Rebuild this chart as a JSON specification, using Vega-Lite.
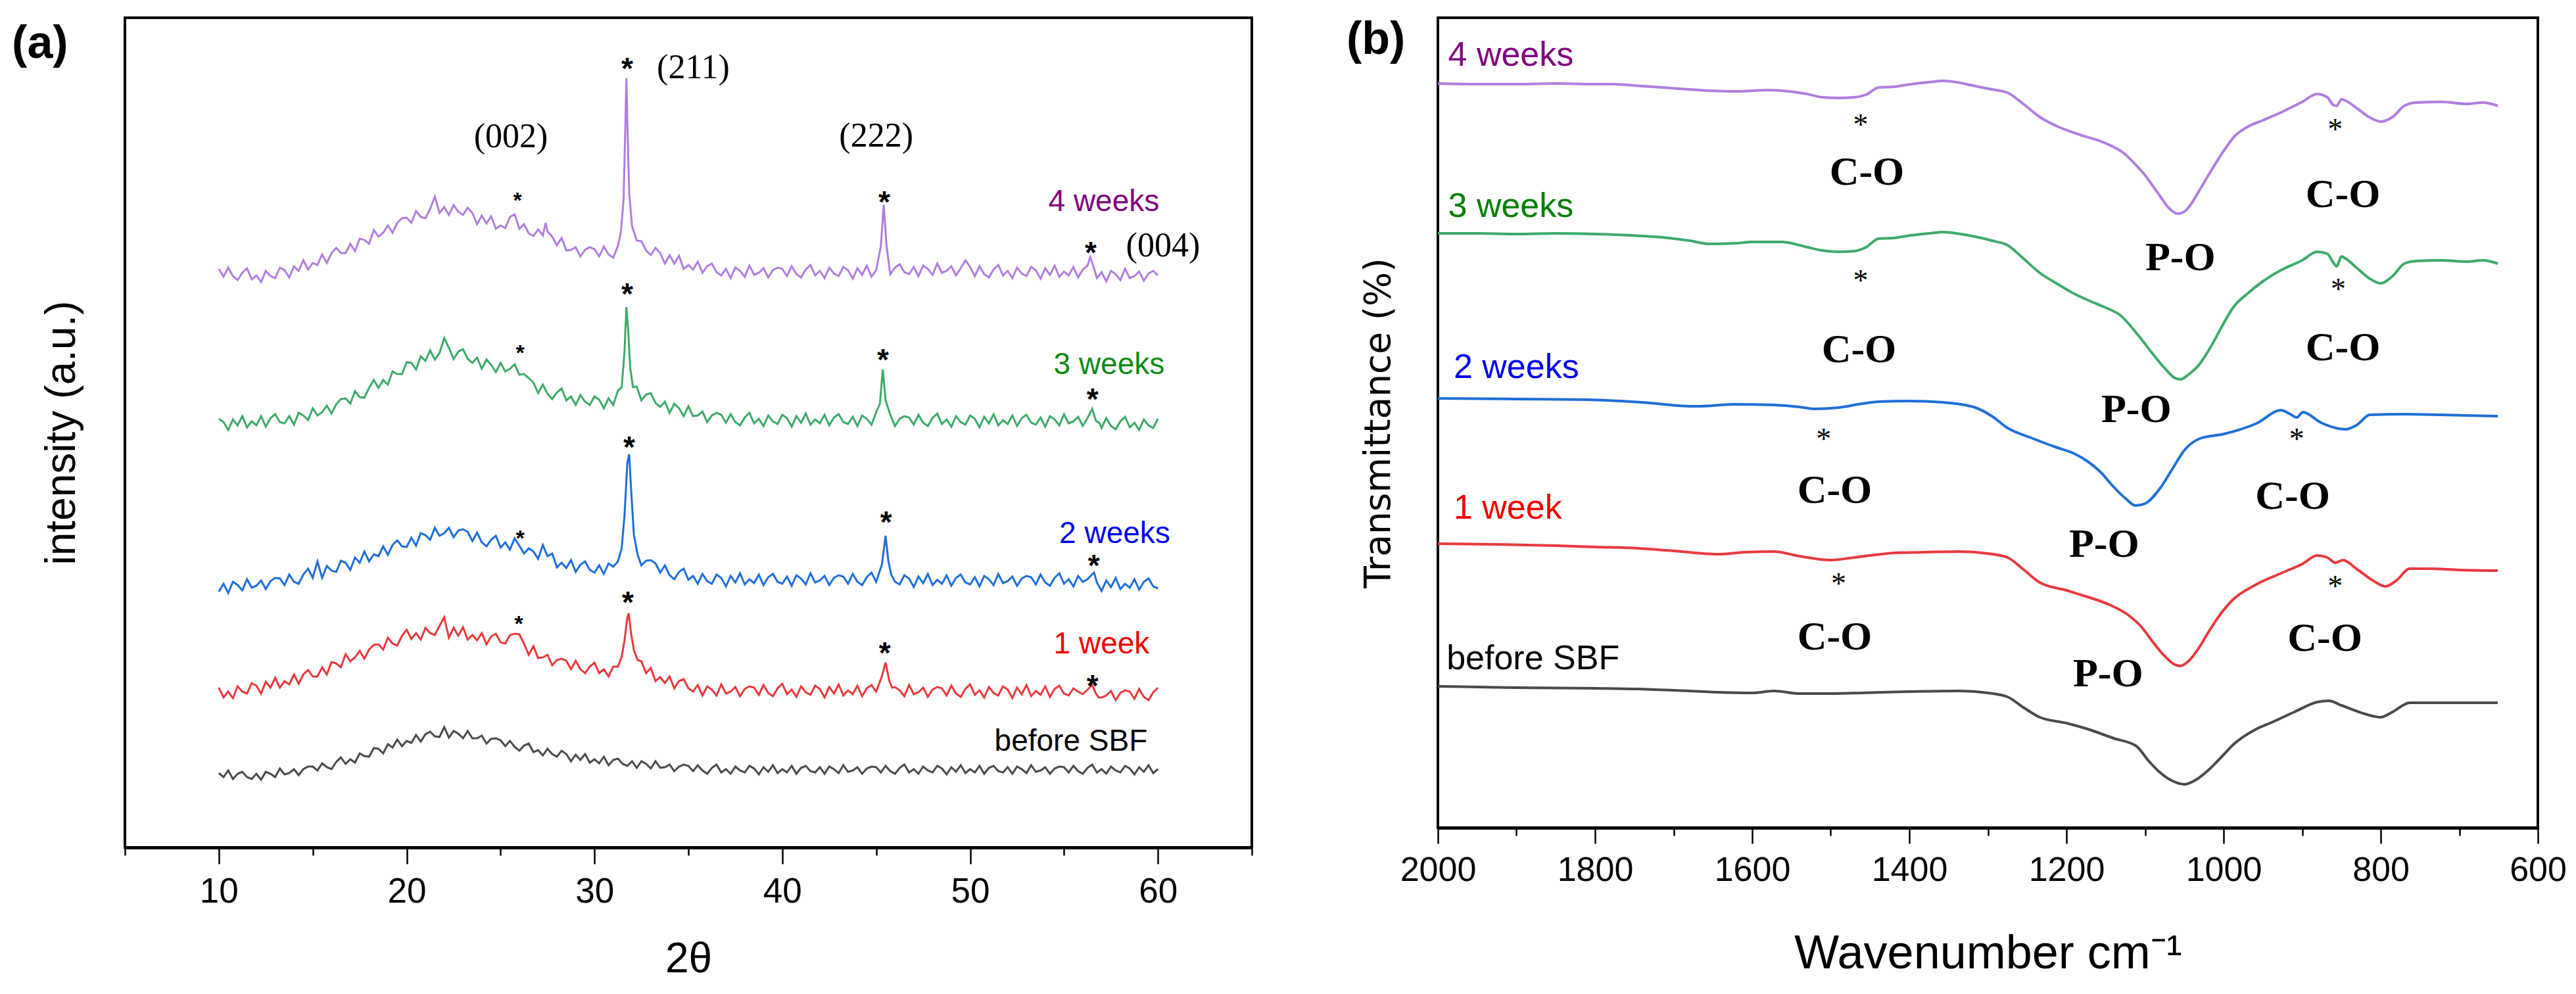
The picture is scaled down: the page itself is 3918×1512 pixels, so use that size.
{
"$schema":"https://vega.github.io/schema/vega-lite/v6.json",
"background":"white",
"padding":{"left":16,"top":24,"right":10,"bottom":5},
"config":{"view":{"stroke":"black","strokeWidth":4},"axis":{"grid":false}},
"bounds":"flush",
"spacing":283,
"datasets":{
"xrd":[
{"s":"4w","t":10,"v":895},{"s":"4w","t":10.25,"v":883},{"s":"4w","t":10.5,"v":897},{"s":"4w","t":10.75,"v":884},{"s":"4w","t":11,"v":878},{"s":"4w","t":11.25,"v":889},{"s":"4w","t":11.5,"v":896},{"s":"4w","t":11.75,"v":879},{"s":"4w","t":12,"v":885},{"s":"4w","t":12.25,"v":875},{"s":"4w","t":12.5,"v":892},{"s":"4w","t":12.75,"v":884},{"s":"4w","t":13,"v":881},{"s":"4w","t":13.25,"v":897},{"s":"4w","t":13.5,"v":893},{"s":"4w","t":13.75,"v":882},{"s":"4w","t":14,"v":899},{"s":"4w","t":14.25,"v":892},{"s":"4w","t":14.5,"v":908},{"s":"4w","t":14.75,"v":894},{"s":"4w","t":15,"v":904},{"s":"4w","t":15.25,"v":901},{"s":"4w","t":15.5,"v":917},{"s":"4w","t":15.75,"v":904},{"s":"4w","t":16,"v":919},{"s":"4w","t":16.25,"v":927},{"s":"4w","t":16.5,"v":919},{"s":"4w","t":16.75,"v":919},{"s":"4w","t":17,"v":933},{"s":"4w","t":17.25,"v":922},{"s":"4w","t":17.5,"v":941},{"s":"4w","t":17.75,"v":939},{"s":"4w","t":18,"v":933},{"s":"4w","t":18.25,"v":954},{"s":"4w","t":18.5,"v":944},{"s":"4w","t":18.75,"v":950},{"s":"4w","t":19,"v":961},{"s":"4w","t":19.25,"v":950},{"s":"4w","t":19.5,"v":965},{"s":"4w","t":19.75,"v":972},{"s":"4w","t":20,"v":973},{"s":"4w","t":20.25,"v":965},{"s":"4w","t":20.5,"v":983},{"s":"4w","t":20.75,"v":974},{"s":"4w","t":21,"v":972},{"s":"4w","t":21.25,"v":986},{"s":"4w","t":21.5,"v":1005},{"s":"4w","t":21.75,"v":980},{"s":"4w","t":22,"v":989},{"s":"4w","t":22.25,"v":977},{"s":"4w","t":22.5,"v":992},{"s":"4w","t":22.75,"v":982},{"s":"4w","t":23,"v":977},{"s":"4w","t":23.25,"v":988},{"s":"4w","t":23.5,"v":980},{"s":"4w","t":23.75,"v":963},{"s":"4w","t":24,"v":976},{"s":"4w","t":24.25,"v":964},{"s":"4w","t":24.5,"v":975},{"s":"4w","t":24.75,"v":956},{"s":"4w","t":25,"v":961},{"s":"4w","t":25.25,"v":957},{"s":"4w","t":25.5,"v":974},{"s":"4w","t":25.75,"v":978},{"s":"4w","t":26,"v":956},{"s":"4w","t":26.25,"v":963},{"s":"4w","t":26.5,"v":949},{"s":"4w","t":26.75,"v":945},{"s":"4w","t":27,"v":955},{"s":"4w","t":27.25,"v":946},{"s":"4w","t":27.4,"v":965},{"s":"4w","t":27.5,"v":952},{"s":"4w","t":27.75,"v":944},{"s":"4w","t":28,"v":931},{"s":"4w","t":28.25,"v":942},{"s":"4w","t":28.5,"v":923},{"s":"4w","t":28.75,"v":924},{"s":"4w","t":29,"v":928},{"s":"4w","t":29.25,"v":914},{"s":"4w","t":29.5,"v":924},{"s":"4w","t":29.75,"v":928},{"s":"4w","t":30,"v":925},{"s":"4w","t":30.25,"v":914},{"s":"4w","t":30.5,"v":929},{"s":"4w","t":30.75,"v":917},{"s":"4w","t":31,"v":912},{"s":"4w","t":31.25,"v":930},{"s":"4w","t":31.4,"v":950},{"s":"4w","t":31.55,"v":1000},{"s":"4w","t":31.65,"v":1120},{"s":"4w","t":31.7,"v":1185},{"s":"4w","t":31.75,"v":1120},{"s":"4w","t":31.85,"v":1010},{"s":"4w","t":32,"v":960},{"s":"4w","t":32.25,"v":938},{"s":"4w","t":32.5,"v":937},{"s":"4w","t":32.75,"v":923},{"s":"4w","t":33,"v":916},{"s":"4w","t":33.25,"v":927},{"s":"4w","t":33.5,"v":919},{"s":"4w","t":33.75,"v":903},{"s":"4w","t":34,"v":916},{"s":"4w","t":34.25,"v":903},{"s":"4w","t":34.5,"v":915},{"s":"4w","t":34.75,"v":895},{"s":"4w","t":35,"v":901},{"s":"4w","t":35.25,"v":894},{"s":"4w","t":35.5,"v":906},{"s":"4w","t":35.75,"v":889},{"s":"4w","t":36,"v":899},{"s":"4w","t":36.25,"v":903},{"s":"4w","t":36.5,"v":890},{"s":"4w","t":36.75,"v":885},{"s":"4w","t":37,"v":895},{"s":"4w","t":37.25,"v":881},{"s":"4w","t":37.5,"v":897},{"s":"4w","t":37.75,"v":892},{"s":"4w","t":38,"v":883},{"s":"4w","t":38.25,"v":900},{"s":"4w","t":38.5,"v":886},{"s":"4w","t":38.75,"v":889},{"s":"4w","t":39,"v":896},{"s":"4w","t":39.25,"v":882},{"s":"4w","t":39.5,"v":893},{"s":"4w","t":39.75,"v":897},{"s":"4w","t":40,"v":895},{"s":"4w","t":40.25,"v":884},{"s":"4w","t":40.5,"v":899},{"s":"4w","t":40.75,"v":887},{"s":"4w","t":41,"v":882},{"s":"4w","t":41.25,"v":894},{"s":"4w","t":41.5,"v":901},{"s":"4w","t":41.75,"v":885},{"s":"4w","t":42,"v":892},{"s":"4w","t":42.25,"v":881},{"s":"4w","t":42.5,"v":897},{"s":"4w","t":42.75,"v":888},{"s":"4w","t":43,"v":884},{"s":"4w","t":43.25,"v":898},{"s":"4w","t":43.5,"v":893},{"s":"4w","t":43.75,"v":880},{"s":"4w","t":44,"v":896},{"s":"4w","t":44.25,"v":886},{"s":"4w","t":44.5,"v":900},{"s":"4w","t":44.75,"v":883},{"s":"4w","t":45,"v":893},{"s":"4w","t":45.25,"v":930},{"s":"4w","t":45.4,"v":993},{"s":"4w","t":45.55,"v":930},{"s":"4w","t":45.75,"v":887},{"s":"4w","t":46,"v":897},{"s":"4w","t":46.25,"v":902},{"s":"4w","t":46.5,"v":890},{"s":"4w","t":46.75,"v":887},{"s":"4w","t":47,"v":898},{"s":"4w","t":47.25,"v":884},{"s":"4w","t":47.5,"v":900},{"s":"4w","t":47.75,"v":895},{"s":"4w","t":48,"v":886},{"s":"4w","t":48.25,"v":903},{"s":"4w","t":48.5,"v":889},{"s":"4w","t":48.75,"v":892},{"s":"4w","t":49,"v":899},{"s":"4w","t":49.25,"v":885},{"s":"4w","t":49.5,"v":896},{"s":"4w","t":49.75,"v":908},{"s":"4w","t":50,"v":898},{"s":"4w","t":50.25,"v":884},{"s":"4w","t":50.5,"v":899},{"s":"4w","t":50.75,"v":887},{"s":"4w","t":51,"v":882},{"s":"4w","t":51.25,"v":894},{"s":"4w","t":51.5,"v":901},{"s":"4w","t":51.75,"v":885},{"s":"4w","t":52,"v":892},{"s":"4w","t":52.25,"v":881},{"s":"4w","t":52.5,"v":897},{"s":"4w","t":52.75,"v":888},{"s":"4w","t":53,"v":884},{"s":"4w","t":53.25,"v":898},{"s":"4w","t":53.5,"v":893},{"s":"4w","t":53.75,"v":880},{"s":"4w","t":54,"v":896},{"s":"4w","t":54.25,"v":886},{"s":"4w","t":54.5,"v":900},{"s":"4w","t":54.75,"v":883},{"s":"4w","t":55,"v":891},{"s":"4w","t":55.25,"v":885},{"s":"4w","t":55.5,"v":898},{"s":"4w","t":55.75,"v":882},{"s":"4w","t":56,"v":894},{"s":"4w","t":56.25,"v":900},{"s":"4w","t":56.4,"v":913},{"s":"4w","t":56.55,"v":900},{"s":"4w","t":56.75,"v":881},{"s":"4w","t":57,"v":890},{"s":"4w","t":57.25,"v":876},{"s":"4w","t":57.5,"v":892},{"s":"4w","t":57.75,"v":887},{"s":"4w","t":58,"v":878},{"s":"4w","t":58.25,"v":895},{"s":"4w","t":58.5,"v":881},{"s":"4w","t":58.75,"v":884},{"s":"4w","t":59,"v":891},{"s":"4w","t":59.25,"v":877},{"s":"4w","t":59.5,"v":888},{"s":"4w","t":59.75,"v":892},{"s":"4w","t":60,"v":885},
{"s":"3w","t":10,"v":667},{"s":"3w","t":10.25,"v":662},{"s":"3w","t":10.5,"v":650},{"s":"3w","t":10.75,"v":666},{"s":"3w","t":11,"v":657},{"s":"3w","t":11.25,"v":671},{"s":"3w","t":11.5,"v":654},{"s":"3w","t":11.75,"v":663},{"s":"3w","t":12,"v":657},{"s":"3w","t":12.25,"v":671},{"s":"3w","t":12.5,"v":655},{"s":"3w","t":12.75,"v":668},{"s":"3w","t":13,"v":674},{"s":"3w","t":13.25,"v":662},{"s":"3w","t":13.5,"v":660},{"s":"3w","t":13.75,"v":671},{"s":"3w","t":14,"v":658},{"s":"3w","t":14.25,"v":676},{"s":"3w","t":14.5,"v":672},{"s":"3w","t":14.75,"v":665},{"s":"3w","t":15,"v":683},{"s":"3w","t":15.25,"v":672},{"s":"3w","t":15.5,"v":677},{"s":"3w","t":15.75,"v":687},{"s":"3w","t":16,"v":675},{"s":"3w","t":16.25,"v":689},{"s":"3w","t":16.5,"v":697},{"s":"3w","t":16.75,"v":698},{"s":"3w","t":17,"v":690},{"s":"3w","t":17.25,"v":709},{"s":"3w","t":17.5,"v":700},{"s":"3w","t":17.75,"v":699},{"s":"3w","t":18,"v":714},{"s":"3w","t":18.25,"v":726},{"s":"3w","t":18.5,"v":714},{"s":"3w","t":18.75,"v":726},{"s":"3w","t":19,"v":719},{"s":"3w","t":19.25,"v":739},{"s":"3w","t":19.5,"v":735},{"s":"3w","t":19.75,"v":735},{"s":"3w","t":20,"v":753},{"s":"3w","t":20.25,"v":752},{"s":"3w","t":20.5,"v":742},{"s":"3w","t":20.75,"v":762},{"s":"3w","t":21,"v":755},{"s":"3w","t":21.25,"v":771},{"s":"3w","t":21.5,"v":757},{"s":"3w","t":21.75,"v":767},{"s":"3w","t":22,"v":790},{"s":"3w","t":22.25,"v":775},{"s":"3w","t":22.5,"v":758},{"s":"3w","t":22.75,"v":769},{"s":"3w","t":23,"v":773},{"s":"3w","t":23.25,"v":758},{"s":"3w","t":23.5,"v":752},{"s":"3w","t":23.75,"v":760},{"s":"3w","t":24,"v":743},{"s":"3w","t":24.25,"v":757},{"s":"3w","t":24.5,"v":749},{"s":"3w","t":24.75,"v":738},{"s":"3w","t":25,"v":752},{"s":"3w","t":25.25,"v":739},{"s":"3w","t":25.5,"v":743},{"s":"3w","t":25.75,"v":750},{"s":"3w","t":26,"v":734},{"s":"3w","t":26.25,"v":735},{"s":"3w","t":26.5,"v":729},{"s":"3w","t":26.75,"v":722},{"s":"3w","t":27,"v":706},{"s":"3w","t":27.25,"v":719},{"s":"3w","t":27.5,"v":705},{"s":"3w","t":27.75,"v":697},{"s":"3w","t":28,"v":707},{"s":"3w","t":28.25,"v":713},{"s":"3w","t":28.5,"v":695},{"s":"3w","t":28.75,"v":701},{"s":"3w","t":29,"v":688},{"s":"3w","t":29.25,"v":703},{"s":"3w","t":29.5,"v":693},{"s":"3w","t":29.75,"v":688},{"s":"3w","t":30,"v":701},{"s":"3w","t":30.25,"v":696},{"s":"3w","t":30.5,"v":683},{"s":"3w","t":30.75,"v":698},{"s":"3w","t":31,"v":688},{"s":"3w","t":31.25,"v":710},{"s":"3w","t":31.45,"v":715},{"s":"3w","t":31.6,"v":770},{"s":"3w","t":31.7,"v":837},{"s":"3w","t":31.8,"v":800},{"s":"3w","t":31.9,"v":745},{"s":"3w","t":32.05,"v":715},{"s":"3w","t":32.25,"v":716},{"s":"3w","t":32.5,"v":695},{"s":"3w","t":32.75,"v":704},{"s":"3w","t":33,"v":706},{"s":"3w","t":33.25,"v":691},{"s":"3w","t":33.5,"v":685},{"s":"3w","t":33.75,"v":693},{"s":"3w","t":34,"v":676},{"s":"3w","t":34.25,"v":690},{"s":"3w","t":34.5,"v":683},{"s":"3w","t":34.75,"v":671},{"s":"3w","t":35,"v":686},{"s":"3w","t":35.25,"v":671},{"s":"3w","t":35.5,"v":672},{"s":"3w","t":35.75,"v":678},{"s":"3w","t":36,"v":662},{"s":"3w","t":36.25,"v":672},{"s":"3w","t":36.5,"v":676},{"s":"3w","t":36.75,"v":673},{"s":"3w","t":37,"v":661},{"s":"3w","t":37.25,"v":674},{"s":"3w","t":37.5,"v":662},{"s":"3w","t":37.75,"v":657},{"s":"3w","t":38,"v":669},{"s":"3w","t":38.25,"v":676},{"s":"3w","t":38.5,"v":660},{"s":"3w","t":38.75,"v":667},{"s":"3w","t":39,"v":656},{"s":"3w","t":39.25,"v":672},{"s":"3w","t":39.5,"v":663},{"s":"3w","t":39.75,"v":659},{"s":"3w","t":40,"v":673},{"s":"3w","t":40.25,"v":668},{"s":"3w","t":40.5,"v":655},{"s":"3w","t":40.75,"v":671},{"s":"3w","t":41,"v":661},{"s":"3w","t":41.25,"v":675},{"s":"3w","t":41.5,"v":658},{"s":"3w","t":41.75,"v":666},{"s":"3w","t":42,"v":660},{"s":"3w","t":42.25,"v":673},{"s":"3w","t":42.5,"v":657},{"s":"3w","t":42.75,"v":669},{"s":"3w","t":43,"v":674},{"s":"3w","t":43.25,"v":662},{"s":"3w","t":43.5,"v":659},{"s":"3w","t":43.75,"v":670},{"s":"3w","t":44,"v":656},{"s":"3w","t":44.25,"v":672},{"s":"3w","t":44.5,"v":667},{"s":"3w","t":44.75,"v":658},{"s":"3w","t":45,"v":677},{"s":"3w","t":45.2,"v":690},{"s":"3w","t":45.35,"v":742},{"s":"3w","t":45.5,"v":695},{"s":"3w","t":45.75,"v":673},{"s":"3w","t":46,"v":656},{"s":"3w","t":46.25,"v":667},{"s":"3w","t":46.5,"v":671},{"s":"3w","t":46.75,"v":669},{"s":"3w","t":47,"v":658},{"s":"3w","t":47.25,"v":673},{"s":"3w","t":47.5,"v":661},{"s":"3w","t":47.75,"v":656},{"s":"3w","t":48,"v":668},{"s":"3w","t":48.25,"v":675},{"s":"3w","t":48.5,"v":659},{"s":"3w","t":48.75,"v":666},{"s":"3w","t":49,"v":655},{"s":"3w","t":49.25,"v":671},{"s":"3w","t":49.5,"v":662},{"s":"3w","t":49.75,"v":658},{"s":"3w","t":50,"v":672},{"s":"3w","t":50.25,"v":667},{"s":"3w","t":50.5,"v":654},{"s":"3w","t":50.75,"v":670},{"s":"3w","t":51,"v":660},{"s":"3w","t":51.25,"v":674},{"s":"3w","t":51.5,"v":657},{"s":"3w","t":51.75,"v":665},{"s":"3w","t":52,"v":659},{"s":"3w","t":52.25,"v":672},{"s":"3w","t":52.5,"v":656},{"s":"3w","t":52.75,"v":668},{"s":"3w","t":53,"v":673},{"s":"3w","t":53.25,"v":661},{"s":"3w","t":53.5,"v":658},{"s":"3w","t":53.75,"v":669},{"s":"3w","t":54,"v":655},{"s":"3w","t":54.25,"v":671},{"s":"3w","t":54.5,"v":666},{"s":"3w","t":54.75,"v":657},{"s":"3w","t":55,"v":674},{"s":"3w","t":55.25,"v":660},{"s":"3w","t":55.5,"v":663},{"s":"3w","t":55.75,"v":670},{"s":"3w","t":56,"v":656},{"s":"3w","t":56.25,"v":668},{"s":"3w","t":56.5,"v":682},{"s":"3w","t":56.7,"v":664},{"s":"3w","t":56.9,"v":660},{"s":"3w","t":57,"v":653},{"s":"3w","t":57.25,"v":668},{"s":"3w","t":57.5,"v":656},{"s":"3w","t":57.75,"v":651},{"s":"3w","t":58,"v":663},{"s":"3w","t":58.25,"v":670},{"s":"3w","t":58.5,"v":654},{"s":"3w","t":58.75,"v":661},{"s":"3w","t":59,"v":650},{"s":"3w","t":59.25,"v":666},{"s":"3w","t":59.5,"v":657},{"s":"3w","t":59.75,"v":653},{"s":"3w","t":60,"v":667},
{"s":"2w","t":10,"v":404},{"s":"2w","t":10.25,"v":416},{"s":"2w","t":10.5,"v":402},{"s":"2w","t":10.75,"v":419},{"s":"2w","t":11,"v":414},{"s":"2w","t":11.25,"v":406},{"s":"2w","t":11.5,"v":423},{"s":"2w","t":11.75,"v":410},{"s":"2w","t":12,"v":413},{"s":"2w","t":12.25,"v":421},{"s":"2w","t":12.5,"v":408},{"s":"2w","t":12.75,"v":420},{"s":"2w","t":13,"v":425},{"s":"2w","t":13.25,"v":424},{"s":"2w","t":13.5,"v":414},{"s":"2w","t":13.75,"v":430},{"s":"2w","t":14,"v":419},{"s":"2w","t":14.25,"v":416},{"s":"2w","t":14.5,"v":430},{"s":"2w","t":14.75,"v":439},{"s":"2w","t":15,"v":425},{"s":"2w","t":15.25,"v":450},{"s":"2w","t":15.5,"v":425},{"s":"2w","t":15.75,"v":443},{"s":"2w","t":16,"v":436},{"s":"2w","t":16.25,"v":434},{"s":"2w","t":16.5,"v":451},{"s":"2w","t":16.75,"v":448},{"s":"2w","t":17,"v":437},{"s":"2w","t":17.25,"v":456},{"s":"2w","t":17.5,"v":448},{"s":"2w","t":17.75,"v":465},{"s":"2w","t":18,"v":450},{"s":"2w","t":18.25,"v":461},{"s":"2w","t":18.5,"v":458},{"s":"2w","t":18.75,"v":473},{"s":"2w","t":19,"v":460},{"s":"2w","t":19.25,"v":475},{"s":"2w","t":19.5,"v":482},{"s":"2w","t":19.75,"v":473},{"s":"2w","t":20,"v":472},{"s":"2w","t":20.25,"v":486},{"s":"2w","t":20.5,"v":474},{"s":"2w","t":20.75,"v":493},{"s":"2w","t":21,"v":490},{"s":"2w","t":21.25,"v":483},{"s":"2w","t":21.5,"v":501},{"s":"2w","t":21.75,"v":489},{"s":"2w","t":22,"v":493},{"s":"2w","t":22.25,"v":501},{"s":"2w","t":22.5,"v":487},{"s":"2w","t":22.75,"v":497},{"s":"2w","t":23,"v":499},{"s":"2w","t":23.25,"v":495},{"s":"2w","t":23.5,"v":481},{"s":"2w","t":23.75,"v":494},{"s":"2w","t":24,"v":479},{"s":"2w","t":24.25,"v":473},{"s":"2w","t":24.5,"v":483},{"s":"2w","t":24.75,"v":489},{"s":"2w","t":25,"v":471},{"s":"2w","t":25.25,"v":479},{"s":"2w","t":25.5,"v":468},{"s":"2w","t":25.75,"v":485},{"s":"2w","t":26,"v":474},{"s":"2w","t":26.25,"v":462},{"s":"2w","t":26.5,"v":470},{"s":"2w","t":26.75,"v":465},{"s":"2w","t":27,"v":454},{"s":"2w","t":27.25,"v":475},{"s":"2w","t":27.5,"v":458},{"s":"2w","t":27.75,"v":462},{"s":"2w","t":28,"v":441},{"s":"2w","t":28.25,"v":448},{"s":"2w","t":28.5,"v":440},{"s":"2w","t":28.75,"v":452},{"s":"2w","t":29,"v":434},{"s":"2w","t":29.25,"v":445},{"s":"2w","t":29.5,"v":450},{"s":"2w","t":29.75,"v":437},{"s":"2w","t":30,"v":433},{"s":"2w","t":30.25,"v":444},{"s":"2w","t":30.5,"v":431},{"s":"2w","t":30.75,"v":447},{"s":"2w","t":31,"v":442},{"s":"2w","t":31.25,"v":450},{"s":"2w","t":31.45,"v":470},{"s":"2w","t":31.6,"v":520},{"s":"2w","t":31.75,"v":600},{"s":"2w","t":31.85,"v":613},{"s":"2w","t":31.95,"v":560},{"s":"2w","t":32.1,"v":490},{"s":"2w","t":32.3,"v":460},{"s":"2w","t":32.5,"v":444},{"s":"2w","t":32.75,"v":451},{"s":"2w","t":33,"v":452},{"s":"2w","t":33.25,"v":447},{"s":"2w","t":33.5,"v":433},{"s":"2w","t":33.75,"v":444},{"s":"2w","t":34,"v":429},{"s":"2w","t":34.25,"v":423},{"s":"2w","t":34.5,"v":434},{"s":"2w","t":34.75,"v":439},{"s":"2w","t":35,"v":422},{"s":"2w","t":35.25,"v":428},{"s":"2w","t":35.5,"v":416},{"s":"2w","t":35.75,"v":431},{"s":"2w","t":36,"v":420},{"s":"2w","t":36.25,"v":416},{"s":"2w","t":36.5,"v":430},{"s":"2w","t":36.75,"v":425},{"s":"2w","t":37,"v":412},{"s":"2w","t":37.25,"v":428},{"s":"2w","t":37.5,"v":418},{"s":"2w","t":37.75,"v":432},{"s":"2w","t":38,"v":415},{"s":"2w","t":38.25,"v":423},{"s":"2w","t":38.5,"v":417},{"s":"2w","t":38.75,"v":430},{"s":"2w","t":39,"v":414},{"s":"2w","t":39.25,"v":426},{"s":"2w","t":39.5,"v":431},{"s":"2w","t":39.75,"v":419},{"s":"2w","t":40,"v":416},{"s":"2w","t":40.25,"v":427},{"s":"2w","t":40.5,"v":413},{"s":"2w","t":40.75,"v":429},{"s":"2w","t":41,"v":424},{"s":"2w","t":41.25,"v":415},{"s":"2w","t":41.5,"v":432},{"s":"2w","t":41.75,"v":418},{"s":"2w","t":42,"v":421},{"s":"2w","t":42.25,"v":428},{"s":"2w","t":42.5,"v":414},{"s":"2w","t":42.75,"v":425},{"s":"2w","t":43,"v":429},{"s":"2w","t":43.25,"v":427},{"s":"2w","t":43.5,"v":416},{"s":"2w","t":43.75,"v":431},{"s":"2w","t":44,"v":419},{"s":"2w","t":44.25,"v":414},{"s":"2w","t":44.5,"v":426},{"s":"2w","t":44.75,"v":433},{"s":"2w","t":45,"v":419},{"s":"2w","t":45.3,"v":445},{"s":"2w","t":45.5,"v":489},{"s":"2w","t":45.65,"v":450},{"s":"2w","t":45.8,"v":430},{"s":"2w","t":46,"v":419},{"s":"2w","t":46.25,"v":415},{"s":"2w","t":46.5,"v":429},{"s":"2w","t":46.75,"v":424},{"s":"2w","t":47,"v":411},{"s":"2w","t":47.25,"v":427},{"s":"2w","t":47.5,"v":417},{"s":"2w","t":47.75,"v":431},{"s":"2w","t":48,"v":414},{"s":"2w","t":48.25,"v":422},{"s":"2w","t":48.5,"v":416},{"s":"2w","t":48.75,"v":429},{"s":"2w","t":49,"v":413},{"s":"2w","t":49.25,"v":425},{"s":"2w","t":49.5,"v":430},{"s":"2w","t":49.75,"v":418},{"s":"2w","t":50,"v":415},{"s":"2w","t":50.25,"v":426},{"s":"2w","t":50.5,"v":412},{"s":"2w","t":50.75,"v":428},{"s":"2w","t":51,"v":423},{"s":"2w","t":51.25,"v":414},{"s":"2w","t":51.5,"v":431},{"s":"2w","t":51.75,"v":417},{"s":"2w","t":52,"v":420},{"s":"2w","t":52.25,"v":427},{"s":"2w","t":52.5,"v":413},{"s":"2w","t":52.75,"v":424},{"s":"2w","t":53,"v":428},{"s":"2w","t":53.25,"v":426},{"s":"2w","t":53.5,"v":415},{"s":"2w","t":53.75,"v":430},{"s":"2w","t":54,"v":418},{"s":"2w","t":54.25,"v":413},{"s":"2w","t":54.5,"v":425},{"s":"2w","t":54.75,"v":432},{"s":"2w","t":55,"v":416},{"s":"2w","t":55.25,"v":423},{"s":"2w","t":55.5,"v":412},{"s":"2w","t":55.75,"v":428},{"s":"2w","t":56,"v":419},{"s":"2w","t":56.25,"v":423},{"s":"2w","t":56.45,"v":429},{"s":"2w","t":56.6,"v":433},{"s":"2w","t":56.75,"v":418},{"s":"2w","t":57,"v":405},{"s":"2w","t":57.25,"v":421},{"s":"2w","t":57.5,"v":411},{"s":"2w","t":57.75,"v":425},{"s":"2w","t":58,"v":408},{"s":"2w","t":58.25,"v":416},{"s":"2w","t":58.5,"v":410},{"s":"2w","t":58.75,"v":423},{"s":"2w","t":59,"v":407},{"s":"2w","t":59.25,"v":419},{"s":"2w","t":59.5,"v":424},{"s":"2w","t":59.75,"v":412},{"s":"2w","t":60,"v":409},
{"s":"1w","t":10,"v":258},{"s":"1w","t":10.25,"v":243},{"s":"1w","t":10.5,"v":252},{"s":"1w","t":10.75,"v":242},{"s":"1w","t":11,"v":260},{"s":"1w","t":11.25,"v":252},{"s":"1w","t":11.5,"v":249},{"s":"1w","t":11.75,"v":265},{"s":"1w","t":12,"v":261},{"s":"1w","t":12.25,"v":249},{"s":"1w","t":12.5,"v":267},{"s":"1w","t":12.75,"v":258},{"s":"1w","t":13,"v":273},{"s":"1w","t":13.25,"v":258},{"s":"1w","t":13.5,"v":268},{"s":"1w","t":13.75,"v":263},{"s":"1w","t":14,"v":278},{"s":"1w","t":14.25,"v":264},{"s":"1w","t":14.5,"v":278},{"s":"1w","t":14.75,"v":285},{"s":"1w","t":15,"v":275},{"s":"1w","t":15.25,"v":275},{"s":"1w","t":15.5,"v":289},{"s":"1w","t":15.75,"v":278},{"s":"1w","t":16,"v":297},{"s":"1w","t":16.25,"v":295},{"s":"1w","t":16.5,"v":289},{"s":"1w","t":16.75,"v":309},{"s":"1w","t":17,"v":298},{"s":"1w","t":17.25,"v":304},{"s":"1w","t":17.5,"v":314},{"s":"1w","t":17.75,"v":302},{"s":"1w","t":18,"v":316},{"s":"1w","t":18.25,"v":323},{"s":"1w","t":18.5,"v":324},{"s":"1w","t":18.75,"v":316},{"s":"1w","t":19,"v":334},{"s":"1w","t":19.25,"v":325},{"s":"1w","t":19.5,"v":322},{"s":"1w","t":19.75,"v":337},{"s":"1w","t":20,"v":346},{"s":"1w","t":20.25,"v":332},{"s":"1w","t":20.5,"v":341},{"s":"1w","t":20.75,"v":331},{"s":"1w","t":21,"v":349},{"s":"1w","t":21.25,"v":341},{"s":"1w","t":21.5,"v":338},{"s":"1w","t":21.75,"v":352},{"s":"1w","t":22,"v":365},{"s":"1w","t":22.25,"v":334},{"s":"1w","t":22.5,"v":349},{"s":"1w","t":22.75,"v":337},{"s":"1w","t":23,"v":350},{"s":"1w","t":23.25,"v":331},{"s":"1w","t":23.5,"v":338},{"s":"1w","t":23.75,"v":330},{"s":"1w","t":24,"v":341},{"s":"1w","t":24.25,"v":324},{"s":"1w","t":24.5,"v":336},{"s":"1w","t":24.75,"v":340},{"s":"1w","t":25,"v":327},{"s":"1w","t":25.25,"v":325},{"s":"1w","t":25.5,"v":338},{"s":"1w","t":25.75,"v":340},{"s":"1w","t":26,"v":339},{"s":"1w","t":26.25,"v":325},{"s":"1w","t":26.5,"v":308},{"s":"1w","t":26.75,"v":321},{"s":"1w","t":27,"v":303},{"s":"1w","t":27.25,"v":304},{"s":"1w","t":27.5,"v":308},{"s":"1w","t":27.75,"v":292},{"s":"1w","t":28,"v":300},{"s":"1w","t":28.25,"v":302},{"s":"1w","t":28.5,"v":299},{"s":"1w","t":28.75,"v":286},{"s":"1w","t":29,"v":299},{"s":"1w","t":29.25,"v":286},{"s":"1w","t":29.5,"v":280},{"s":"1w","t":29.75,"v":290},{"s":"1w","t":30,"v":296},{"s":"1w","t":30.25,"v":280},{"s":"1w","t":30.5,"v":286},{"s":"1w","t":30.75,"v":275},{"s":"1w","t":31,"v":290},{"s":"1w","t":31.25,"v":290},{"s":"1w","t":31.45,"v":305},{"s":"1w","t":31.6,"v":330},{"s":"1w","t":31.75,"v":365},{"s":"1w","t":31.82,"v":371},{"s":"1w","t":31.95,"v":340},{"s":"1w","t":32.1,"v":315},{"s":"1w","t":32.3,"v":300},{"s":"1w","t":32.5,"v":298},{"s":"1w","t":32.75,"v":280},{"s":"1w","t":33,"v":288},{"s":"1w","t":33.25,"v":268},{"s":"1w","t":33.5,"v":274},{"s":"1w","t":33.75,"v":265},{"s":"1w","t":34,"v":275},{"s":"1w","t":34.25,"v":257},{"s":"1w","t":34.5,"v":268},{"s":"1w","t":34.75,"v":271},{"s":"1w","t":35,"v":257},{"s":"1w","t":35.25,"v":252},{"s":"1w","t":35.5,"v":262},{"s":"1w","t":35.75,"v":246},{"s":"1w","t":36,"v":260},{"s":"1w","t":36.25,"v":255},{"s":"1w","t":36.5,"v":246},{"s":"1w","t":36.75,"v":263},{"s":"1w","t":37,"v":249},{"s":"1w","t":37.25,"v":252},{"s":"1w","t":37.5,"v":259},{"s":"1w","t":37.75,"v":245},{"s":"1w","t":38,"v":256},{"s":"1w","t":38.25,"v":260},{"s":"1w","t":38.5,"v":258},{"s":"1w","t":38.75,"v":247},{"s":"1w","t":39,"v":262},{"s":"1w","t":39.25,"v":250},{"s":"1w","t":39.5,"v":245},{"s":"1w","t":39.75,"v":257},{"s":"1w","t":40,"v":264},{"s":"1w","t":40.25,"v":248},{"s":"1w","t":40.5,"v":255},{"s":"1w","t":40.75,"v":244},{"s":"1w","t":41,"v":260},{"s":"1w","t":41.25,"v":251},{"s":"1w","t":41.5,"v":247},{"s":"1w","t":41.75,"v":261},{"s":"1w","t":42,"v":256},{"s":"1w","t":42.25,"v":243},{"s":"1w","t":42.5,"v":259},{"s":"1w","t":42.75,"v":249},{"s":"1w","t":43,"v":263},{"s":"1w","t":43.25,"v":246},{"s":"1w","t":43.5,"v":254},{"s":"1w","t":43.75,"v":248},{"s":"1w","t":44,"v":261},{"s":"1w","t":44.25,"v":245},{"s":"1w","t":44.5,"v":257},{"s":"1w","t":44.75,"v":262},{"s":"1w","t":45,"v":252},{"s":"1w","t":45.3,"v":275},{"s":"1w","t":45.5,"v":296},{"s":"1w","t":45.7,"v":268},{"s":"1w","t":45.85,"v":258},{"s":"1w","t":46,"v":259},{"s":"1w","t":46.25,"v":254},{"s":"1w","t":46.5,"v":245},{"s":"1w","t":46.75,"v":262},{"s":"1w","t":47,"v":248},{"s":"1w","t":47.25,"v":251},{"s":"1w","t":47.5,"v":258},{"s":"1w","t":47.75,"v":244},{"s":"1w","t":48,"v":255},{"s":"1w","t":48.25,"v":259},{"s":"1w","t":48.5,"v":257},{"s":"1w","t":48.75,"v":246},{"s":"1w","t":49,"v":261},{"s":"1w","t":49.25,"v":249},{"s":"1w","t":49.5,"v":244},{"s":"1w","t":49.75,"v":256},{"s":"1w","t":50,"v":263},{"s":"1w","t":50.25,"v":247},{"s":"1w","t":50.5,"v":254},{"s":"1w","t":50.75,"v":243},{"s":"1w","t":51,"v":259},{"s":"1w","t":51.25,"v":250},{"s":"1w","t":51.5,"v":246},{"s":"1w","t":51.75,"v":260},{"s":"1w","t":52,"v":255},{"s":"1w","t":52.25,"v":242},{"s":"1w","t":52.5,"v":258},{"s":"1w","t":52.75,"v":248},{"s":"1w","t":53,"v":262},{"s":"1w","t":53.25,"v":245},{"s":"1w","t":53.5,"v":253},{"s":"1w","t":53.75,"v":247},{"s":"1w","t":54,"v":260},{"s":"1w","t":54.25,"v":244},{"s":"1w","t":54.5,"v":256},{"s":"1w","t":54.75,"v":261},{"s":"1w","t":55,"v":249},{"s":"1w","t":55.25,"v":246},{"s":"1w","t":55.5,"v":257},{"s":"1w","t":55.75,"v":252},{"s":"1w","t":56,"v":248},{"s":"1w","t":56.25,"v":255},{"s":"1w","t":56.5,"v":262},{"s":"1w","t":56.7,"v":249},{"s":"1w","t":56.85,"v":243},{"s":"1w","t":57,"v":243},{"s":"1w","t":57.25,"v":246},{"s":"1w","t":57.5,"v":253},{"s":"1w","t":57.75,"v":239},{"s":"1w","t":58,"v":250},{"s":"1w","t":58.25,"v":254},{"s":"1w","t":58.5,"v":252},{"s":"1w","t":58.75,"v":241},{"s":"1w","t":59,"v":256},{"s":"1w","t":59.25,"v":244},{"s":"1w","t":59.5,"v":239},{"s":"1w","t":59.75,"v":251},{"s":"1w","t":60,"v":258},
{"s":"0w","t":10,"v":128},{"s":"0w","t":10.25,"v":122},{"s":"0w","t":10.5,"v":132},{"s":"0w","t":10.75,"v":119},{"s":"0w","t":11,"v":127},{"s":"0w","t":11.25,"v":130},{"s":"0w","t":11.5,"v":122},{"s":"0w","t":11.75,"v":119},{"s":"0w","t":12,"v":127},{"s":"0w","t":12.25,"v":118},{"s":"0w","t":12.5,"v":130},{"s":"0w","t":12.75,"v":127},{"s":"0w","t":13,"v":122},{"s":"0w","t":13.25,"v":135},{"s":"0w","t":13.5,"v":126},{"s":"0w","t":13.75,"v":128},{"s":"0w","t":14,"v":134},{"s":"0w","t":14.25,"v":125},{"s":"0w","t":14.5,"v":134},{"s":"0w","t":14.75,"v":138},{"s":"0w","t":15,"v":138},{"s":"0w","t":15.25,"v":132},{"s":"0w","t":15.5,"v":143},{"s":"0w","t":15.75,"v":137},{"s":"0w","t":16,"v":134},{"s":"0w","t":16.25,"v":145},{"s":"0w","t":16.5,"v":152},{"s":"0w","t":16.75,"v":142},{"s":"0w","t":17,"v":149},{"s":"0w","t":17.25,"v":144},{"s":"0w","t":17.5,"v":158},{"s":"0w","t":17.75,"v":154},{"s":"0w","t":18,"v":153},{"s":"0w","t":18.25,"v":166},{"s":"0w","t":18.5,"v":165},{"s":"0w","t":18.75,"v":158},{"s":"0w","t":19,"v":172},{"s":"0w","t":19.25,"v":167},{"s":"0w","t":19.5,"v":179},{"s":"0w","t":19.75,"v":169},{"s":"0w","t":20,"v":177},{"s":"0w","t":20.25,"v":174},{"s":"0w","t":20.5,"v":186},{"s":"0w","t":20.75,"v":176},{"s":"0w","t":21,"v":187},{"s":"0w","t":21.25,"v":191},{"s":"0w","t":21.5,"v":184},{"s":"0w","t":21.75,"v":183},{"s":"0w","t":22,"v":198},{"s":"0w","t":22.25,"v":182},{"s":"0w","t":22.5,"v":192},{"s":"0w","t":22.75,"v":188},{"s":"0w","t":23,"v":181},{"s":"0w","t":23.25,"v":192},{"s":"0w","t":23.5,"v":181},{"s":"0w","t":23.75,"v":181},{"s":"0w","t":24,"v":185},{"s":"0w","t":24.25,"v":173},{"s":"0w","t":24.5,"v":180},{"s":"0w","t":24.75,"v":181},{"s":"0w","t":25,"v":178},{"s":"0w","t":25.25,"v":169},{"s":"0w","t":25.5,"v":177},{"s":"0w","t":25.75,"v":168},{"s":"0w","t":26,"v":162},{"s":"0w","t":26.25,"v":170},{"s":"0w","t":26.5,"v":173},{"s":"0w","t":26.75,"v":160},{"s":"0w","t":27,"v":163},{"s":"0w","t":27.25,"v":155},{"s":"0w","t":27.5,"v":165},{"s":"0w","t":27.75,"v":157},{"s":"0w","t":28,"v":153},{"s":"0w","t":28.25,"v":162},{"s":"0w","t":28.5,"v":157},{"s":"0w","t":28.75,"v":146},{"s":"0w","t":29,"v":156},{"s":"0w","t":29.25,"v":148},{"s":"0w","t":29.5,"v":157},{"s":"0w","t":29.75,"v":144},{"s":"0w","t":30,"v":149},{"s":"0w","t":30.25,"v":143},{"s":"0w","t":30.5,"v":153},{"s":"0w","t":30.75,"v":140},{"s":"0w","t":31,"v":148},{"s":"0w","t":31.25,"v":150},{"s":"0w","t":31.5,"v":142},{"s":"0w","t":31.75,"v":139},{"s":"0w","t":32,"v":146},{"s":"0w","t":32.25,"v":136},{"s":"0w","t":32.5,"v":146},{"s":"0w","t":32.75,"v":142},{"s":"0w","t":33,"v":135},{"s":"0w","t":33.25,"v":146},{"s":"0w","t":33.5,"v":136},{"s":"0w","t":33.75,"v":137},{"s":"0w","t":34,"v":141},{"s":"0w","t":34.25,"v":131},{"s":"0w","t":34.5,"v":138},{"s":"0w","t":34.75,"v":141},{"s":"0w","t":35,"v":139},{"s":"0w","t":35.25,"v":131},{"s":"0w","t":35.5,"v":140},{"s":"0w","t":35.75,"v":132},{"s":"0w","t":36,"v":127},{"s":"0w","t":36.25,"v":136},{"s":"0w","t":36.5,"v":141},{"s":"0w","t":36.75,"v":129},{"s":"0w","t":37,"v":134},{"s":"0w","t":37.25,"v":127},{"s":"0w","t":37.5,"v":138},{"s":"0w","t":37.75,"v":132},{"s":"0w","t":38,"v":129},{"s":"0w","t":38.25,"v":139},{"s":"0w","t":38.5,"v":135},{"s":"0w","t":38.75,"v":126},{"s":"0w","t":39,"v":137},{"s":"0w","t":39.25,"v":130},{"s":"0w","t":39.5,"v":140},{"s":"0w","t":39.75,"v":128},{"s":"0w","t":40,"v":134},{"s":"0w","t":40.25,"v":129},{"s":"0w","t":40.5,"v":139},{"s":"0w","t":40.75,"v":127},{"s":"0w","t":41,"v":136},{"s":"0w","t":41.25,"v":139},{"s":"0w","t":41.5,"v":131},{"s":"0w","t":41.75,"v":129},{"s":"0w","t":42,"v":137},{"s":"0w","t":42.25,"v":127},{"s":"0w","t":42.5,"v":138},{"s":"0w","t":42.75,"v":134},{"s":"0w","t":43,"v":128},{"s":"0w","t":43.25,"v":140},{"s":"0w","t":43.5,"v":130},{"s":"0w","t":43.75,"v":132},{"s":"0w","t":44,"v":137},{"s":"0w","t":44.25,"v":127},{"s":"0w","t":44.5,"v":135},{"s":"0w","t":44.75,"v":138},{"s":"0w","t":45,"v":137},{"s":"0w","t":45.25,"v":129},{"s":"0w","t":45.5,"v":139},{"s":"0w","t":45.75,"v":131},{"s":"0w","t":46,"v":127},{"s":"0w","t":46.25,"v":136},{"s":"0w","t":46.5,"v":141},{"s":"0w","t":46.75,"v":129},{"s":"0w","t":47,"v":134},{"s":"0w","t":47.25,"v":127},{"s":"0w","t":47.5,"v":138},{"s":"0w","t":47.75,"v":132},{"s":"0w","t":48,"v":129},{"s":"0w","t":48.25,"v":139},{"s":"0w","t":48.5,"v":135},{"s":"0w","t":48.75,"v":126},{"s":"0w","t":49,"v":137},{"s":"0w","t":49.25,"v":130},{"s":"0w","t":49.5,"v":140},{"s":"0w","t":49.75,"v":128},{"s":"0w","t":50,"v":134},{"s":"0w","t":50.25,"v":129},{"s":"0w","t":50.5,"v":139},{"s":"0w","t":50.75,"v":127},{"s":"0w","t":51,"v":136},{"s":"0w","t":51.25,"v":139},{"s":"0w","t":51.5,"v":131},{"s":"0w","t":51.75,"v":129},{"s":"0w","t":52,"v":137},{"s":"0w","t":52.25,"v":127},{"s":"0w","t":52.5,"v":138},{"s":"0w","t":52.75,"v":134},{"s":"0w","t":53,"v":128},{"s":"0w","t":53.25,"v":140},{"s":"0w","t":53.5,"v":130},{"s":"0w","t":53.75,"v":132},{"s":"0w","t":54,"v":137},{"s":"0w","t":54.25,"v":127},{"s":"0w","t":54.5,"v":135},{"s":"0w","t":54.75,"v":138},{"s":"0w","t":55,"v":137},{"s":"0w","t":55.25,"v":129},{"s":"0w","t":55.5,"v":139},{"s":"0w","t":55.75,"v":131},{"s":"0w","t":56,"v":127},{"s":"0w","t":56.25,"v":136},{"s":"0w","t":56.5,"v":141},{"s":"0w","t":56.75,"v":129},{"s":"0w","t":57,"v":134},{"s":"0w","t":57.25,"v":127},{"s":"0w","t":57.5,"v":138},{"s":"0w","t":57.75,"v":132},{"s":"0w","t":58,"v":129},{"s":"0w","t":58.25,"v":139},{"s":"0w","t":58.5,"v":135},{"s":"0w","t":58.75,"v":126},{"s":"0w","t":59,"v":137},{"s":"0w","t":59.25,"v":130},{"s":"0w","t":59.5,"v":140},{"s":"0w","t":59.75,"v":128},{"s":"0w","t":60,"v":134}
],
"ftir":[
{"s":"4w","w":2000,"v":1171},{"s":"4w","w":1950,"v":1170},{"s":"4w","w":1900,"v":1170},{"s":"4w","w":1850,"v":1171},{"s":"4w","w":1800,"v":1170},{"s":"4w","w":1777,"v":1170},{"s":"4w","w":1740,"v":1167},{"s":"4w","w":1715,"v":1165},{"s":"4w","w":1680,"v":1162},{"s":"4w","w":1654,"v":1160},{"s":"4w","w":1620,"v":1159},{"s":"4w","w":1600,"v":1160},{"s":"4w","w":1580,"v":1161},{"s":"4w","w":1562,"v":1160},{"s":"4w","w":1530,"v":1155},{"s":"4w","w":1511,"v":1150},{"s":"4w","w":1490,"v":1149},{"s":"4w","w":1470,"v":1150},{"s":"4w","w":1455,"v":1154},{"s":"4w","w":1439,"v":1165},{"s":"4w","w":1420,"v":1166},{"s":"4w","w":1398,"v":1170},{"s":"4w","w":1375,"v":1173},{"s":"4w","w":1357,"v":1175},{"s":"4w","w":1340,"v":1173},{"s":"4w","w":1316,"v":1167},{"s":"4w","w":1295,"v":1162},{"s":"4w","w":1275,"v":1157},{"s":"4w","w":1255,"v":1140},{"s":"4w","w":1234,"v":1120},{"s":"4w","w":1210,"v":1105},{"s":"4w","w":1183,"v":1093},{"s":"4w","w":1150,"v":1080},{"s":"4w","w":1127,"v":1065},{"s":"4w","w":1110,"v":1045},{"s":"4w","w":1101,"v":1033},{"s":"4w","w":1090,"v":1015},{"s":"4w","w":1081,"v":1000},{"s":"4w","w":1070,"v":982},{"s":"4w","w":1058,"v":973},{"s":"4w","w":1048,"v":978},{"s":"4w","w":1040,"v":990},{"s":"4w","w":1030,"v":1010},{"s":"4w","w":1015,"v":1040},{"s":"4w","w":999,"v":1070},{"s":"4w","w":985,"v":1092},{"s":"4w","w":968,"v":1106},{"s":"4w","w":950,"v":1115},{"s":"4w","w":927,"v":1127},{"s":"4w","w":900,"v":1143},{"s":"4w","w":881,"v":1155},{"s":"4w","w":868,"v":1150},{"s":"4w","w":860,"v":1138},{"s":"4w","w":856,"v":1137},{"s":"4w","w":850,"v":1147},{"s":"4w","w":845,"v":1145},{"s":"4w","w":830,"v":1133},{"s":"4w","w":815,"v":1120},{"s":"4w","w":800,"v":1113},{"s":"4w","w":785,"v":1120},{"s":"4w","w":770,"v":1137},{"s":"4w","w":755,"v":1142},{"s":"4w","w":723,"v":1143},{"s":"4w","w":690,"v":1140},{"s":"4w","w":670,"v":1142},{"s":"4w","w":651,"v":1137},
{"s":"3w","w":2000,"v":943},{"s":"3w","w":1950,"v":943},{"s":"3w","w":1900,"v":942},{"s":"3w","w":1850,"v":943},{"s":"3w","w":1800,"v":942},{"s":"3w","w":1740,"v":939},{"s":"3w","w":1715,"v":937},{"s":"3w","w":1680,"v":932},{"s":"3w","w":1654,"v":927},{"s":"3w","w":1620,"v":928},{"s":"3w","w":1600,"v":930},{"s":"3w","w":1562,"v":930},{"s":"3w","w":1530,"v":922},{"s":"3w","w":1511,"v":917},{"s":"3w","w":1490,"v":915},{"s":"3w","w":1470,"v":916},{"s":"3w","w":1455,"v":922},{"s":"3w","w":1439,"v":935},{"s":"3w","w":1420,"v":936},{"s":"3w","w":1398,"v":940},{"s":"3w","w":1375,"v":943},{"s":"3w","w":1357,"v":945},{"s":"3w","w":1340,"v":943},{"s":"3w","w":1316,"v":938},{"s":"3w","w":1295,"v":932},{"s":"3w","w":1275,"v":925},{"s":"3w","w":1255,"v":905},{"s":"3w","w":1234,"v":883},{"s":"3w","w":1210,"v":865},{"s":"3w","w":1193,"v":853},{"s":"3w","w":1170,"v":840},{"s":"3w","w":1150,"v":830},{"s":"3w","w":1132,"v":819},{"s":"3w","w":1110,"v":790},{"s":"3w","w":1091,"v":761},{"s":"3w","w":1075,"v":738},{"s":"3w","w":1062,"v":723},{"s":"3w","w":1055,"v":721},{"s":"3w","w":1045,"v":728},{"s":"3w","w":1030,"v":745},{"s":"3w","w":1019,"v":765},{"s":"3w","w":1000,"v":806},{"s":"3w","w":988,"v":830},{"s":"3w","w":968,"v":853},{"s":"3w","w":950,"v":870},{"s":"3w","w":927,"v":887},{"s":"3w","w":900,"v":902},{"s":"3w","w":881,"v":915},{"s":"3w","w":868,"v":912},{"s":"3w","w":860,"v":898},{"s":"3w","w":856,"v":893},{"s":"3w","w":850,"v":908},{"s":"3w","w":845,"v":905},{"s":"3w","w":830,"v":890},{"s":"3w","w":815,"v":875},{"s":"3w","w":800,"v":867},{"s":"3w","w":785,"v":878},{"s":"3w","w":770,"v":897},{"s":"3w","w":755,"v":901},{"s":"3w","w":723,"v":902},{"s":"3w","w":690,"v":900},{"s":"3w","w":670,"v":902},{"s":"3w","w":651,"v":897},
{"s":"2w","w":2000,"v":692},{"s":"2w","w":1900,"v":691},{"s":"2w","w":1808,"v":690},{"s":"2w","w":1740,"v":686},{"s":"2w","w":1675,"v":680},{"s":"2w","w":1650,"v":681},{"s":"2w","w":1623,"v":683},{"s":"2w","w":1572,"v":682},{"s":"2w","w":1540,"v":679},{"s":"2w","w":1521,"v":676},{"s":"2w","w":1490,"v":678},{"s":"2w","w":1460,"v":684},{"s":"2w","w":1439,"v":687},{"s":"2w","w":1400,"v":688},{"s":"2w","w":1357,"v":686},{"s":"2w","w":1316,"v":678},{"s":"2w","w":1295,"v":665},{"s":"2w","w":1275,"v":647},{"s":"2w","w":1245,"v":632},{"s":"2w","w":1214,"v":618},{"s":"2w","w":1190,"v":608},{"s":"2w","w":1173,"v":596},{"s":"2w","w":1155,"v":578},{"s":"2w","w":1142,"v":560},{"s":"2w","w":1125,"v":540},{"s":"2w","w":1112,"v":529},{"s":"2w","w":1100,"v":532},{"s":"2w","w":1081,"v":555},{"s":"2w","w":1065,"v":585},{"s":"2w","w":1050,"v":613},{"s":"2w","w":1030,"v":631},{"s":"2w","w":999,"v":638},{"s":"2w","w":958,"v":654},{"s":"2w","w":927,"v":674},{"s":"2w","w":915,"v":668},{"s":"2w","w":907,"v":663},{"s":"2w","w":899,"v":671},{"s":"2w","w":876,"v":655},{"s":"2w","w":845,"v":645},{"s":"2w","w":830,"v":652},{"s":"2w","w":814,"v":667},{"s":"2w","w":770,"v":668},{"s":"2w","w":723,"v":667},{"s":"2w","w":690,"v":666},{"s":"2w","w":651,"v":665},
{"s":"1w","w":2000,"v":471},{"s":"1w","w":1930,"v":470},{"s":"1w","w":1849,"v":468},{"s":"1w","w":1800,"v":466},{"s":"1w","w":1746,"v":464},{"s":"1w","w":1700,"v":460},{"s":"1w","w":1644,"v":455},{"s":"1w","w":1610,"v":458},{"s":"1w","w":1572,"v":459},{"s":"1w","w":1540,"v":452},{"s":"1w","w":1500,"v":446},{"s":"1w","w":1470,"v":450},{"s":"1w","w":1418,"v":457},{"s":"1w","w":1380,"v":458},{"s":"1w","w":1336,"v":459},{"s":"1w","w":1300,"v":456},{"s":"1w","w":1275,"v":450},{"s":"1w","w":1255,"v":432},{"s":"1w","w":1234,"v":412},{"s":"1w","w":1200,"v":400},{"s":"1w","w":1173,"v":390},{"s":"1w","w":1145,"v":378},{"s":"1w","w":1122,"v":363},{"s":"1w","w":1105,"v":345},{"s":"1w","w":1091,"v":323},{"s":"1w","w":1075,"v":300},{"s":"1w","w":1062,"v":287},{"s":"1w","w":1055,"v":285},{"s":"1w","w":1045,"v":292},{"s":"1w","w":1030,"v":315},{"s":"1w","w":1019,"v":337},{"s":"1w","w":1000,"v":370},{"s":"1w","w":988,"v":386},{"s":"1w","w":960,"v":408},{"s":"1w","w":927,"v":426},{"s":"1w","w":900,"v":440},{"s":"1w","w":881,"v":453},{"s":"1w","w":868,"v":450},{"s":"1w","w":858,"v":442},{"s":"1w","w":848,"v":446},{"s":"1w","w":830,"v":432},{"s":"1w","w":810,"v":415},{"s":"1w","w":794,"v":406},{"s":"1w","w":780,"v":415},{"s":"1w","w":763,"v":433},{"s":"1w","w":740,"v":433},{"s":"1w","w":700,"v":431},{"s":"1w","w":651,"v":430},
{"s":"0w","w":2000,"v":254},{"s":"0w","w":1900,"v":252},{"s":"0w","w":1800,"v":251},{"s":"0w","w":1746,"v":250},{"s":"0w","w":1700,"v":248},{"s":"0w","w":1644,"v":245},{"s":"0w","w":1600,"v":244},{"s":"0w","w":1572,"v":247},{"s":"0w","w":1540,"v":243},{"s":"0w","w":1500,"v":243},{"s":"0w","w":1460,"v":244},{"s":"0w","w":1400,"v":246},{"s":"0w","w":1336,"v":247},{"s":"0w","w":1300,"v":244},{"s":"0w","w":1275,"v":238},{"s":"0w","w":1255,"v":222},{"s":"0w","w":1234,"v":207},{"s":"0w","w":1200,"v":198},{"s":"0w","w":1173,"v":189},{"s":"0w","w":1140,"v":175},{"s":"0w","w":1111,"v":163},{"s":"0w","w":1095,"v":140},{"s":"0w","w":1081,"v":123},{"s":"0w","w":1065,"v":110},{"s":"0w","w":1050,"v":105},{"s":"0w","w":1035,"v":112},{"s":"0w","w":1019,"v":127},{"s":"0w","w":1000,"v":150},{"s":"0w","w":988,"v":165},{"s":"0w","w":960,"v":188},{"s":"0w","w":937,"v":200},{"s":"0w","w":910,"v":215},{"s":"0w","w":881,"v":230},{"s":"0w","w":866,"v":232},{"s":"0w","w":850,"v":225},{"s":"0w","w":820,"v":212},{"s":"0w","w":800,"v":207},{"s":"0w","w":785,"v":215},{"s":"0w","w":763,"v":229},{"s":"0w","w":720,"v":229},{"s":"0w","w":651,"v":229}
],
"hklA":[{"t":35.26,"v":1203,"txt":"(211)"},{"t":25.55,"v":1098,"txt":"(002)"},{"t":45.0,"v":1099,"txt":"(222)"},{"t":60.27,"v":932,"txt":"(004)"}],
"starBigA":[{"t":31.74,"v":1210},{"t":45.43,"v":1007},{"t":56.42,"v":930},{"t":31.74,"v":867},{"t":45.36,"v":767},{"t":56.52,"v":707},{"t":31.85,"v":634},{"t":45.53,"v":520},{"t":56.59,"v":454},{"t":31.78,"v":398},{"t":45.46,"v":321},{"t":56.52,"v":271}],
"starSmallA":[{"t":25.9,"v":1007},{"t":26.04,"v":775},{"t":26.04,"v":493},{"t":25.97,"v":363}],
"labA":[{"t":57.12,"v":1000,"s":"4w","txt":"4 weeks"},{"t":57.4,"v":752,"s":"3w","txt":"3 weeks"},{"t":57.7,"v":495,"s":"2w","txt":"2 weeks"},{"t":57.0,"v":327,"s":"1w","txt":"1 week"},{"t":55.37,"v":179,"s":"0w","txt":"before SBF"}],
"panelA":[{"t":0.48,"v":1234,"txt":"(a)"}],
"labB":[{"w":1987,"v":1217,"s":"4w","txt":"4 weeks"},{"w":1987,"v":987,"s":"3w","txt":"3 weeks"},{"w":1980,"v":742,"s":"2w","txt":"2 weeks"},{"w":1980,"v":528,"s":"1w","txt":"1 week"},{"w":1989,"v":299,"s":"0w","txt":"before SBF"}],
"bandB":[{"w":1454,"v":1037,"txt":"C-O"},{"w":848,"v":1003,"txt":"C-O"},{"w":1055,"v":907,"txt":"P-O"},{"w":1464,"v":767,"txt":"C-O"},{"w":848,"v":770,"txt":"C-O"},{"w":1111,"v":676,"txt":"P-O"},{"w":1495,"v":553,"txt":"C-O"},{"w":912,"v":544,"txt":"C-O"},{"w":1152,"v":471,"txt":"P-O"},{"w":1495,"v":330,"txt":"C-O"},{"w":871,"v":328,"txt":"C-O"},{"w":1147,"v":274,"txt":"P-O"}],
"starB":[{"w":1462,"v":1115},{"w":858,"v":1108},{"w":1462,"v":878},{"w":854,"v":865},{"w":1509,"v":637},{"w":907,"v":637},{"w":1490,"v":417},{"w":858,"v":413}],
"panelB":[{"w":2079,"v":1234,"txt":"(b)"}]
},
"hconcat":[
{"width":1714,"height":1262,
"resolve":{"scale":{"color":"independent"}},
"encoding":{
"x":{"field":"t","type":"quantitative","scale":{"domain":[5,65],"nice":false,"zero":false},
"axis":{"values":[5,10,15,20,25,30,35,40,45,50,55,60,65],"labelExpr":"datum.value % 10 === 0 ? datum.label : ''","labelOverlap":false,"labelFlush":false,
"tickSize":{"condition":{"test":"datum.value % 10 === 0","value":25},"value":12},"tickWidth":2.5,"tickColor":"black",
"domainWidth":5,"domainColor":"black","labelFont":"Liberation Sans","labelFontSize":53,"labelColor":"black","labelPadding":16,
"title":"2θ","titleFont":"Liberation Sans","titleFontSize":64,"titleFontWeight":"normal","titleColor":"black","titlePadding":44}},
"y":{"field":"v","type":"quantitative","scale":{"domain":[15,1277],"nice":false,"zero":false},
"axis":{"title":"intensity (a.u.)","titleFont":"Liberation Sans","titleFontSize":64,"titleFontWeight":"normal","titleColor":"black","titlePadding":64,"labels":false,"ticks":false,"domain":false}}
},
"layer":[
{"data":{"name":"xrd"},"mark":{"type":"line","strokeWidth":3},
"encoding":{"color":{"field":"s","type":"nominal","scale":{"domain":["4w","3w","2w","1w","0w"],"range":["#B07EE0","#3DAA6B","#1E6FD8","#E8393E","#4A4A4A"]},"legend":null}}},
{"data":{"name":"hklA"},"mark":{"type":"text","font":"Liberation Serif","fontSize":52,"baseline":"alphabetic","dy":18,"color":"black"},
"encoding":{"text":{"field":"txt"}}},
{"data":{"name":"starBigA"},"mark":{"type":"text","text":"*","font":"Liberation Sans","fontSize":46,"fontWeight":"bold","baseline":"alphabetic","dy":26,"color":"black"}},
{"data":{"name":"starSmallA"},"mark":{"type":"text","text":"*","font":"Liberation Sans","fontSize":34,"fontWeight":"bold","baseline":"alphabetic","dy":19,"color":"black"}},
{"data":{"name":"labA"},"mark":{"type":"text","font":"Liberation Sans","fontSize":46,"baseline":"alphabetic","dy":17},
"encoding":{"text":{"field":"txt"},"color":{"field":"s","type":"nominal","scale":{"domain":["4w","3w","2w","1w","0w"],"range":["#800080","#0E8A16","#0000F0","#F00000","#000000"]},"legend":null}}},
{"data":{"name":"panelA"},"mark":{"type":"text","font":"Liberation Sans","fontSize":70,"fontWeight":"bold","baseline":"alphabetic","dy":18,"color":"black"},
"encoding":{"text":{"field":"txt"}}}
]},
{"width":1673,"height":1232,
"resolve":{"scale":{"color":"independent"}},
"encoding":{
"x":{"field":"w","type":"quantitative","scale":{"domain":[600,2000],"reverse":true,"nice":false,"zero":false},
"axis":{"values":[600,700,800,900,1000,1100,1200,1300,1400,1500,1600,1700,1800,1900,2000],"format":"d","labelExpr":"datum.value % 200 === 0 ? datum.label : ''","labelOverlap":false,"labelFlush":false,
"tickSize":{"condition":{"test":"datum.value % 200 === 0","value":24},"value":12},"tickWidth":2.5,"tickColor":"black",
"domainWidth":5,"domainColor":"black","labelFont":"Liberation Sans","labelFontSize":52,"labelColor":"black","labelPadding":15,
"title":"Wavenumber cm⁻¹","titleFont":"Liberation Sans","titleFontSize":72,"titleFontWeight":"normal","titleColor":"black","titlePadding":66}},
"y":{"field":"v","type":"quantitative","scale":{"domain":[39,1271],"nice":false,"zero":false},
"axis":{"title":"Transmittance (%)","titleFont":"DejaVu Sans","titleFontSize":55,"titleFontWeight":"normal","titleColor":"black","titlePadding":62,"labels":false,"ticks":false,"domain":false}}
},
"layer":[
{"data":{"name":"ftir"},"mark":{"type":"line","strokeWidth":4,"interpolate":"monotone"},
"encoding":{"color":{"field":"s","type":"nominal","scale":{"domain":["4w","3w","2w","1w","0w"],"range":["#B07EE0","#3DAA6B","#1E6FD8","#E8393E","#4A4A4A"]},"legend":null}}},
{"data":{"name":"bandB"},"mark":{"type":"text","font":"Liberation Serif","fontSize":62,"fontWeight":"bold","baseline":"alphabetic","dy":20,"color":"black"},
"encoding":{"text":{"field":"txt"}}},
{"data":{"name":"starB"},"mark":{"type":"text","text":"*","font":"Liberation Serif","fontSize":46,"baseline":"alphabetic","dy":22,"color":"black"}},
{"data":{"name":"labB"},"mark":{"type":"text","font":"Liberation Sans","fontSize":52,"baseline":"alphabetic","align":"left","dy":19},
"encoding":{"text":{"field":"txt"},"color":{"field":"s","type":"nominal","scale":{"domain":["4w","3w","2w","1w","0w"],"range":["#800080","#008000","#0000F0","#F00000","#000000"]},"legend":null}}},
{"data":{"name":"panelB"},"mark":{"type":"text","font":"Liberation Sans","fontSize":70,"fontWeight":"bold","baseline":"alphabetic","dy":18,"color":"black"},
"encoding":{"text":{"field":"txt"}}}
]}
]
}
